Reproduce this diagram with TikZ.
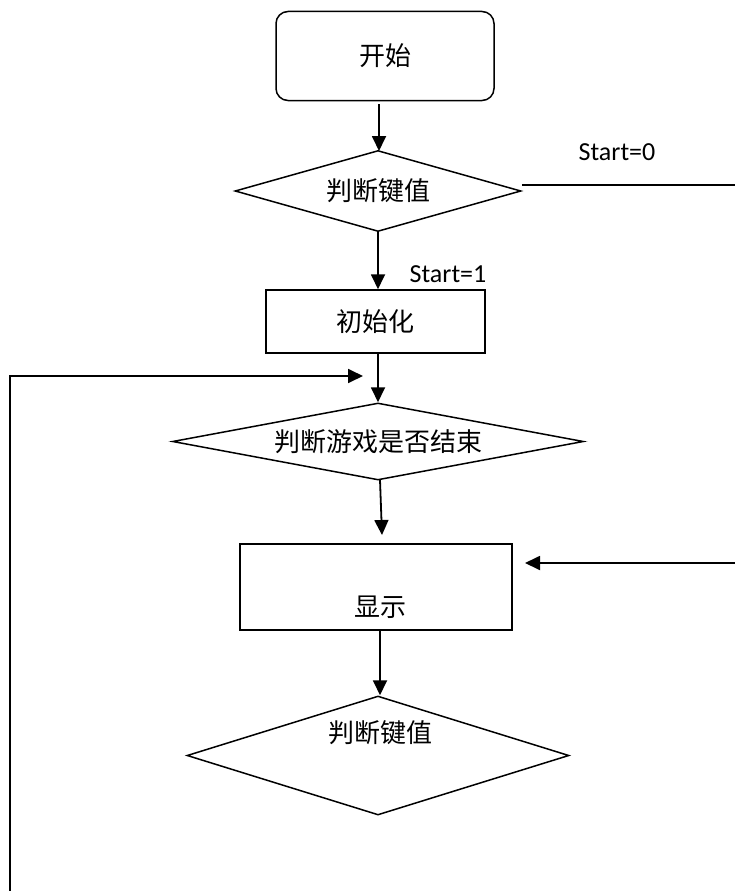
\documentclass[tikz,border=0pt]{standalone}
\usepackage{fontspec}
\setmainfont{Carlito}
\newfontfamily\cjk{Noto Sans CJK SC}
\usetikzlibrary{shapes.geometric,arrows.meta}
\begin{document}
\begin{tikzpicture}[x=1pt,y=-1pt,
  every node/.style={inner sep=0pt},
  conn/.style={line width=1.8pt,-{Triangle[length=15pt,width=14pt]}},
  plain/.style={line width=1.8pt},
  boxnode/.style={draw,line width=1.5pt,rectangle},
  decision/.style={draw,line width=1.5pt,diamond,shape aspect=5},
  cjktext/.style={font=\cjk\fontsize{26}{30}\selectfont},
  lbl/.style={font=\fontsize{26}{30}\selectfont}]
\useasboundingbox (0,0) rectangle (735,891);
% nodes
\node[boxnode,rounded corners=12pt,minimum width=218pt,minimum height=89pt,cjktext] (start) at (385,56) {开始};
\node[decision,minimum width=286pt,minimum height=81pt,cjktext] (d1) at (378,191) {判断键值};
\node[boxnode,minimum width=219pt,minimum height=63pt,cjktext] (init) at (375.5,321.5) {初始化};
\node[decision,minimum width=411pt,minimum height=77pt,cjktext] (d2) at (378,441.5) {判断游戏是否结束};
\node[boxnode,minimum width=272pt,minimum height=86pt] (show) at (376,587) {};
\node[cjktext] (showtxt) at (380,607) {显示};
\node[decision,minimum width=382pt,minimum height=119pt] (d3) at (378,755.5) {};
\node[cjktext] (d3txt) at (380,733) {判断键值};
\node[lbl] (s0) at (617,152) {Start=0};
\node[lbl] (s1) at (448,274) {Start=1};
% coordinates
\coordinate (rightA) at (735,185);
\coordinate (rightB) at (735,563);
\coordinate (showin) at (525,563);
\coordinate (d2out) at (380,480);
\coordinate (showtop) at (382,535);
\coordinate (leftbot) at (10,891);
\coordinate (leftcorner) at (10,376);
\coordinate (looptip) at (363,376);
% connectors
\draw[conn] (379,104) -- (379,151);
\draw[conn] (d1.south) -- (init.north -| d1.south);
\draw[conn] (init.south -| d1.south) -- (d2.north);
\draw[conn] (d2out) -- (showtop);
\draw[conn] (show.south -| 380,0) -- (d3.north -| 380,0);
\draw[plain] (d1.east |- rightA) -- (rightA);
\draw[conn] (rightB) -- (showin);
\draw[conn] (leftbot) -- (leftcorner) -- (looptip);
\end{tikzpicture}
\end{document}
